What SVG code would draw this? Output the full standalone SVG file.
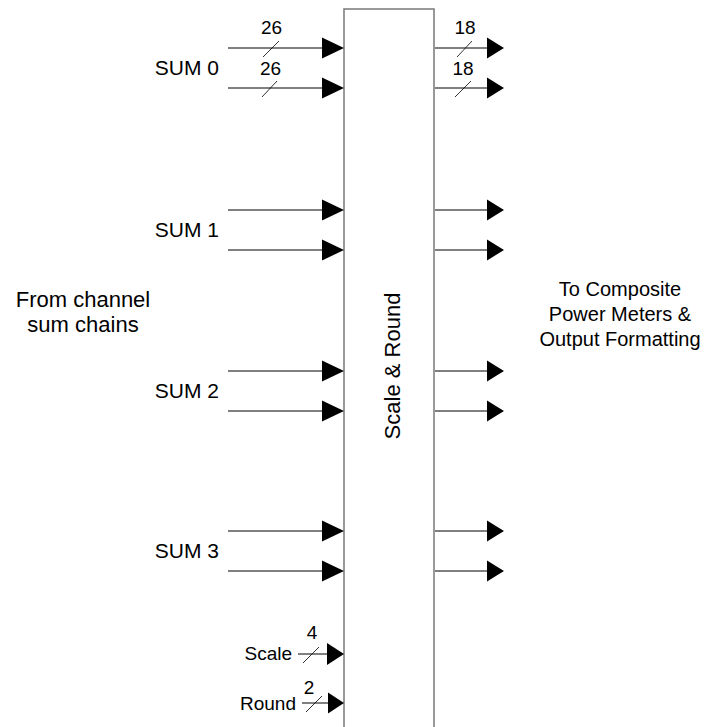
<svg xmlns="http://www.w3.org/2000/svg" width="712" height="727" viewBox="0 0 712 727">
<style>
text{font-family:"Liberation Sans",Arial,sans-serif;fill:#000}
.lbl{font-size:21px}
.bus{font-size:19px;text-anchor:middle}
.sig{font-size:19px;text-anchor:end}
.w{stroke:#000;stroke-width:1;fill:none}
.s{stroke:#000;stroke-width:0.8;fill:none}
.ah{fill:#000;stroke:none}
</style>
<rect width="712" height="727" fill="#fff"/>
<g id="block">
<rect x="344" y="9" width="90" height="730" fill="#fff" stroke="#808080" stroke-width="1.6"/>
<text class="lbl" style="font-size:22px" transform="translate(400,366) rotate(-90)" text-anchor="middle">Scale &amp; Round</text>
</g>
<g id="labels">
<text class="lbl" x="219" y="75" text-anchor="end">SUM 0</text>
<text class="lbl" x="219" y="237" text-anchor="end">SUM 1</text>
<text class="lbl" x="219" y="398" text-anchor="end">SUM 2</text>
<text class="lbl" x="219" y="558" text-anchor="end">SUM 3</text>
<text class="lbl" style="font-size:22px" x="83" y="307" text-anchor="middle">From channel</text>
<text class="lbl" style="font-size:22px" x="83" y="332" text-anchor="middle">sum chains</text>
<text class="lbl" style="font-size:20px" x="620" y="296" text-anchor="middle">To Composite</text>
<text class="lbl" style="font-size:20px" x="620" y="321" text-anchor="middle">Power Meters &amp;</text>
<text class="lbl" style="font-size:20px" x="620" y="346" text-anchor="middle">Output Formatting</text>
<text class="sig" x="292" y="660">Scale</text>
<text class="sig" x="296" y="710">Round</text>
</g>
<g id="connectors">
<g>
<line class="w" x1="228" y1="48" x2="322" y2="48"/><polygon class="ah" points="322,37.5 344,48 322,58.5"/>
<line class="w" x1="228" y1="88" x2="322" y2="88"/><polygon class="ah" points="322,77.5 344,88 322,98.5"/>
<line class="w" x1="228" y1="210" x2="322" y2="210"/><polygon class="ah" points="322,199.5 344,210 322,220.5"/>
<line class="w" x1="228" y1="250" x2="322" y2="250"/><polygon class="ah" points="322,239.5 344,250 322,260.5"/>
<line class="w" x1="228" y1="371" x2="322" y2="371"/><polygon class="ah" points="322,360.5 344,371 322,381.5"/>
<line class="w" x1="228" y1="411" x2="322" y2="411"/><polygon class="ah" points="322,400.5 344,411 322,421.5"/>
<line class="w" x1="228" y1="531" x2="322" y2="531"/><polygon class="ah" points="322,520.5 344,531 322,541.5"/>
<line class="w" x1="228" y1="571" x2="322" y2="571"/><polygon class="ah" points="322,560.5 344,571 322,581.5"/>
<line class="w" x1="298" y1="654" x2="327" y2="654"/><polygon class="ah" points="327,643 344,654 327,665"/>
<line class="w" x1="302" y1="703" x2="328" y2="703"/><polygon class="ah" points="328,692.5 344,703 328,713.5"/>
</g>
<g>
<line class="w" x1="435" y1="48" x2="487" y2="48"/><polygon class="ah" points="487,37.5 504,48 487,58.5"/>
<line class="w" x1="435" y1="88" x2="487" y2="88"/><polygon class="ah" points="487,77.5 504,88 487,98.5"/>
<line class="w" x1="435" y1="210" x2="487" y2="210"/><polygon class="ah" points="487,199.5 504,210 487,220.5"/>
<line class="w" x1="435" y1="250" x2="487" y2="250"/><polygon class="ah" points="487,239.5 504,250 487,260.5"/>
<line class="w" x1="435" y1="371" x2="487" y2="371"/><polygon class="ah" points="487,360.5 504,371 487,381.5"/>
<line class="w" x1="435" y1="411" x2="487" y2="411"/><polygon class="ah" points="487,400.5 504,411 487,421.5"/>
<line class="w" x1="435" y1="531" x2="487" y2="531"/><polygon class="ah" points="487,520.5 504,531 487,541.5"/>
<line class="w" x1="435" y1="571" x2="487" y2="571"/><polygon class="ah" points="487,560.5 504,571 487,581.5"/>
</g>
<g>
<line class="s" x1="263" y1="57" x2="279" y2="41"/>
<line class="s" x1="262" y1="97" x2="277" y2="81"/>
<line class="s" x1="457" y1="57" x2="472" y2="41"/>
<line class="s" x1="455" y1="97" x2="471" y2="81"/>
<line class="s" x1="303" y1="663" x2="319" y2="647"/>
<line class="s" x1="306" y1="712" x2="322" y2="696"/>
</g>
<text class="bus" x="271.5" y="34">26</text>
<text class="bus" x="270.5" y="75">26</text>
<text class="bus" x="465" y="34">18</text>
<text class="bus" x="463" y="75">18</text>
<text class="bus" x="312" y="639">4</text>
<text class="bus" x="309" y="694">2</text>
</g>
</svg>
